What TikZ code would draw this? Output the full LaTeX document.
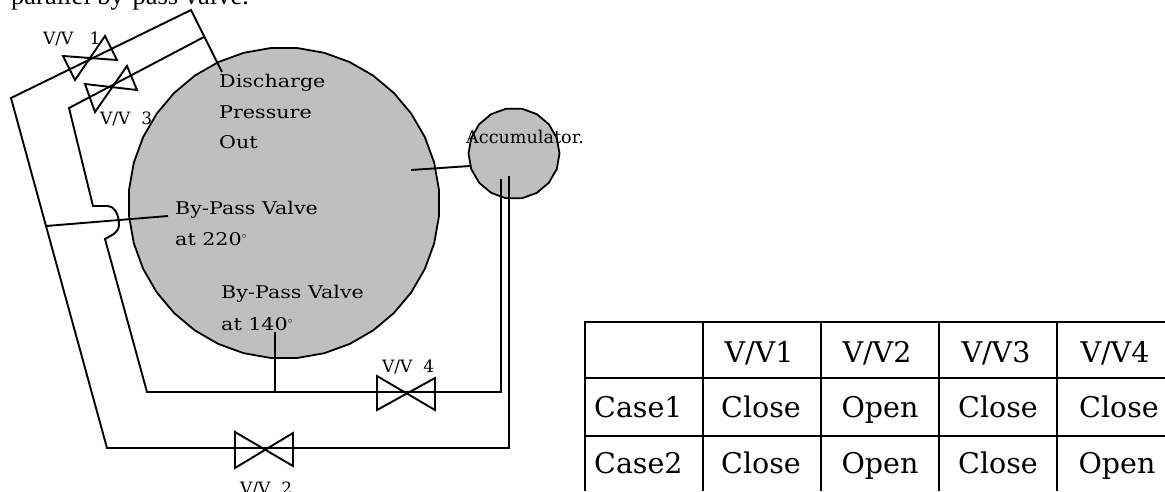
\documentclass[tikz,border=0pt]{standalone}
\usepackage{fontspec}
\setmainfont{DejaVu Serif}
\newfontfamily\captionfont{Liberation Serif}
\newfontfamily\widefont[FakeStretch=1.18]{DejaVu Serif}
\usetikzlibrary{shapes.geometric}

\begin{document}
\begin{tikzpicture}[x=1pt, y=-1pt,
  tank/.style={draw, fill=black!25, regular polygon, inner sep=0pt, line width=1.8pt},
  pipe/.style={line width=1.9pt, line join=miter},
  valve/.style={line width=1.9pt, line join=miter},
  tag/.style={anchor=base west, inner sep=0pt, font=\fontsize{17}{20}\selectfont},
  widetag/.style={anchor=base west, inner sep=0pt, font=\fontsize{17.5}{20}\selectfont\widefont},
  cell/.style={anchor=base, inner sep=0pt, font=\fontsize{28.5}{32}\selectfont}]
\useasboundingbox (0,0) rectangle (1165,491);
\clip (0,0) rectangle (1165,491);

\node[anchor=base west, inner sep=0pt, font=\fontsize{26.5}{30}\selectfont\captionfont] (title) at (11,4)
  {parallel by-pass valve.};

\node[tank, regular polygon sides=36, minimum size=311pt] (drum) at (284,203) {};
\node[tank, regular polygon sides=18, minimum size=91pt] (accum) at (514,153.5) {};

% junctions of the pipe run
\coordinate (outerTop) at (191,10);
\coordinate (outerLeft) at (11,98);
\coordinate (outerKnee) at (46,226);
\coordinate (outerFoot) at (107,448);
\coordinate (outerEnd) at (509,176);
\coordinate (outerCorner) at (509,448);
\coordinate (discharge) at (222,72);
\coordinate (tapTop) at (204,37);
\coordinate (innerLeft) at (69,108);
\coordinate (innerKnee) at (93,206);
\coordinate (bendIn) at (108,206);
\coordinate (bendMid) at (119,224);
\coordinate (bendOut) at (105,239);
\coordinate (innerFoot) at (147,392);
\coordinate (innerCorner) at (501,392);
\coordinate (innerEnd) at (501,179);
\coordinate (bypassA) at (168,216);
\coordinate (bypassB) at (275,332);
\coordinate (bypassBfoot) at (275,392);
\coordinate (drumTap) at (411,170);
\coordinate (accumTap) at (470,166);

\draw[pipe] (discharge) -- (outerTop) -- (outerLeft) -- (outerKnee) -- (outerFoot)
  -- (outerCorner) -- (outerEnd);
\draw[pipe] (tapTop) -- (innerLeft) -- (innerKnee) -- (bendIn)
  .. controls (113,206) and (119,213) .. (bendMid)
  .. controls (119,232) and (114,234) .. (bendOut)
  -- (innerFoot) -- (innerCorner) -- (innerEnd);
\draw[pipe] (outerKnee) -- (bypassA);
\draw[pipe] (bypassB) -- (bypassBfoot);
\draw[pipe] (drumTap) -- (accumTap);

% valves
\draw[valve] (63,56) -- (117,60) -- (105,36) -- (75,80) -- cycle;
\draw[valve] (85,84) -- (137,90) -- (127,66) -- (95,112) -- cycle;
\draw[valve] (235,432) -- (293,466) -- (293,433) -- (235,468) -- cycle;
\draw[valve] (377,376) -- (435,410) -- (435,378) -- (377,410) -- cycle;

\node[tag] (vv1) at (43,44) {V/V\ \ \ 1};
\node[tag] (vv3) at (100,124) {V/V\ \ 3};
\node[tag] (vv4) at (382,372) {V/V\ \ 4};
\node[tag] (vv2) at (240,494) {V/V\ \ 2};
\node[widetag] (dis1) at (219,87) {Discharge};
\node[widetag] (dis2) at (219,118) {Pressure};
\node[widetag] (dis3) at (219,148) {Out};
\node[widetag] (by1) at (175,214) {By-Pass Valve};
\node[widetag] (by2) at (175,245) {at 220$^{\scriptscriptstyle\circ}$};
\node[widetag] (by3) at (221,298) {By-Pass Valve};
\node[widetag] (by4) at (221,330) {at 140$^{\scriptscriptstyle\circ}$};
\node[tag, font=\fontsize{17.6}{20}\selectfont] (acc) at (466,143) {Accumulator.};

% table
\draw[pipe] (1175,322) -- (585,322) -- (585,491);
\draw[pipe] (585,378) -- (1175,378);
\draw[pipe] (585,436) -- (1175,436);
\draw[pipe] (703,322) -- (703,491);
\draw[pipe] (821,322) -- (821,491);
\draw[pipe] (939,322) -- (939,491);
\draw[pipe] (1057,322) -- (1057,491);

\node[cell] (hA) at (759,362) {V/V1};
\node[cell] (hB) at (877,362) {V/V2};
\node[cell] (hC) at (996,362) {V/V3};
\node[cell] (hD) at (1115,362) {V/V4};
\node[cell, anchor=base west] (case1) at (594,417) {Case1};
\node[cell] (a1) at (761,417) {Close};
\node[cell] (b1) at (880,417) {Open};
\node[cell] (c1) at (998,417) {Close};
\node[cell] (d1) at (1119,417) {Close};
\node[cell, anchor=base west] (case2) at (594,473) {Case2};
\node[cell] (a2) at (761,473) {Close};
\node[cell] (b2) at (880,473) {Open};
\node[cell] (c2) at (998,473) {Close};
\node[cell] (d2) at (1117,473) {Open};
\end{tikzpicture}
\end{document}
